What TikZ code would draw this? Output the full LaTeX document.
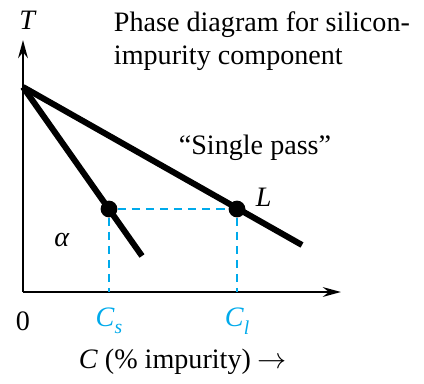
\documentclass[tikz,border=0pt]{standalone}
\usepackage{fontspec}
\setmainfont{Liberation Serif}
\usepackage{xcolor}
\usetikzlibrary{arrows.meta}
\definecolor{proccyan}{RGB}{0,170,235}
\tikzset{
  ax/.style={line width=2pt,-{Stealth[length=4.5mm,width=2.4mm]}},
  ph/.style={line width=4.3pt},
  tie/.style={proccyan,line width=0.9pt,dash pattern=on 6pt off 4pt},
  pt/.style={circle,fill,inner sep=0pt,minimum size=0.42cm},
  lbl/.style={font=\fontsize{20}{20}\selectfont}
}
\newcommand{\sub}[2]{\textit{#1}\raisebox{-0.28em}{\fontsize{14}{14}\selectfont\textit{#2}}}

\begin{document}
\begin{tikzpicture}
\useasboundingbox (-0.575,-2.275) rectangle (10.025,7.3);
\coordinate (O) at (0,0); \coordinate (ytop) at (0,6.3); \coordinate (xend) at (7.95,0);
\coordinate (melt) at (0,5.125); \coordinate (liq) at (6.975,1.175); \coordinate (sol) at (2.975,0.9);
\draw[ax] (O) -- (ytop); \draw[ax] (O) -- (xend);
\draw[ph] (melt) -- (liq); \draw[ph] (melt) -- (sol);
\node[pt] (cs) at (2.15,2.075) {}; \node[pt] (cl) at (5.35,2.075) {};
\draw[tie] (cs) -- (cl); \draw[tie] (cs) -- (cs |- O); \draw[tie] (cl) -- (cl |- O);
\node[lbl] (tlab) at (0.125,6.8) {\textit{T}};
\node[lbl,anchor=north west,align=left] (title) at (2.15,7.12) {Phase diagram for silicon-\\[3pt]impurity component};
\node[lbl] (pass) at (5.8,3.6) {“Single pass”};
\node[lbl] (llab) at (6.02,2.38) {\textit{L}};
\node[lbl] (alab) at (0.975,1.3) {\textit{α}};
\node[lbl] (zero) at (0,-0.72) {0};
\node[lbl,text=proccyan] (cslab) at (2.15,-0.72) {\sub{C}{s}};
\node[lbl,text=proccyan] (cllab) at (5.35,-0.72) {\sub{C}{l}};
\node[lbl] (cap) at (4.0,-1.75) {\textit{C} (\% impurity) $\rightarrow$};
\end{tikzpicture}
\end{document}
